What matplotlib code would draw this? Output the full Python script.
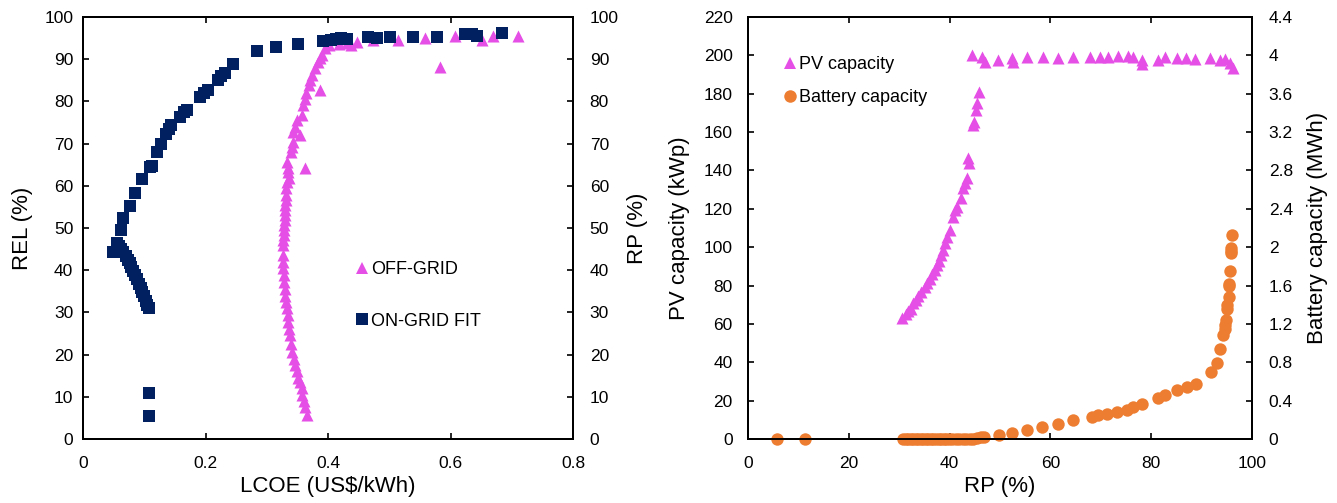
import matplotlib
matplotlib.use("Agg")
import matplotlib.pyplot as plt
from matplotlib.lines import Line2D
from matplotlib.ticker import MultipleLocator, FuncFormatter

plt.rcParams["font.family"] = ["Liberation Sans", "DejaVu Sans"]

NAVY = "#002060"
MAGENTA = "#E54FE6"
ORANGE = "#ED7D31"

# ── left panel: LCOE vs REL/RP ──
ongrid_lcoe = [0.107, 0.107, 0.107, 0.105, 0.103, 0.100, 0.097, 0.094, 0.091, 0.088,
               0.085, 0.082, 0.079, 0.076, 0.073, 0.070, 0.066, 0.062, 0.059, 0.056,
               0.049, 0.062, 0.066, 0.077, 0.085, 0.097, 0.109, 0.112, 0.121, 0.128,
               0.135, 0.140, 0.143, 0.158, 0.165, 0.170, 0.191, 0.198, 0.204, 0.220,
               0.225, 0.232, 0.245, 0.284, 0.315, 0.351, 0.392, 0.405, 0.413, 0.422,
               0.431, 0.465, 0.480, 0.501, 0.539, 0.578, 0.624, 0.635, 0.643, 0.684]
ongrid_val = [5.5, 11.0, 31.0, 31.8, 32.8, 33.8, 34.8, 35.8, 36.8, 37.8,
              38.8, 39.8, 40.7, 41.6, 42.5, 43.3, 44.2, 45.0, 45.8, 46.5,
              44.2, 49.5, 52.3, 55.2, 58.3, 61.6, 64.4, 64.8, 68.0, 70.0,
              72.3, 73.5, 74.4, 76.3, 77.5, 78.0, 81.0, 82.0, 82.7, 85.0,
              86.0, 86.7, 88.8, 91.9, 92.9, 93.6, 94.3, 94.6, 94.8, 95.0,
              94.8, 95.3, 95.0, 95.3, 95.3, 95.3, 96.0, 96.0, 95.5, 96.2]

offgrid_lcoe = [0.366, 0.362, 0.360, 0.358, 0.357, 0.354, 0.351, 0.349, 0.346, 0.344,
                0.342, 0.340, 0.338, 0.336, 0.335, 0.334, 0.333, 0.332, 0.330, 0.329,
                0.328, 0.328, 0.327, 0.326, 0.326, 0.327, 0.327, 0.328, 0.328, 0.328,
                0.329, 0.330, 0.330, 0.330, 0.331, 0.331, 0.332, 0.333, 0.336, 0.335,
                0.335, 0.333, 0.340, 0.341, 0.343, 0.343, 0.346, 0.349, 0.357, 0.359,
                0.362, 0.364, 0.369, 0.371, 0.374, 0.379, 0.384, 0.387, 0.390, 0.395,
                0.402, 0.387, 0.362, 0.355, 0.418, 0.431, 0.437, 0.447, 0.474, 0.514,
                0.558, 0.583, 0.607, 0.651, 0.670, 0.710]
offgrid_val = [5.7, 7.5, 9.0, 10.5, 12.0, 13.5, 14.5, 16.0, 17.5, 19.0,
               20.6, 22.5, 24.6, 26.0, 27.7, 29.5, 31.0, 32.5, 34.0, 35.5,
               37.2, 38.8, 40.5, 42.0, 43.6, 46.0, 47.2, 48.3, 49.5, 50.7,
               52.0, 53.0, 54.2, 55.5, 56.7, 57.8, 59.5, 61.0, 61.8, 63.2,
               64.2, 65.6, 68.0, 69.2, 70.4, 72.7, 74.0, 75.6, 76.8, 79.1,
               80.5, 82.0, 83.9, 85.0, 86.3, 87.9, 89.3, 90.2, 91.0, 92.7,
               93.4, 82.7, 64.2, 72.0, 93.5, 93.8, 93.3, 94.1, 94.5, 94.5,
               95.0, 88.2, 95.5, 94.5, 95.5, 95.5]

# ── right panel: RP vs PV / battery capacity ──
pv_rp = [5.7, 11.3, 30.6, 31.3, 31.8, 32.3, 32.7, 33.3, 33.8, 34.4,
         35.1, 35.6, 36.1, 36.6, 37.1, 37.5, 37.9, 38.3, 38.7, 39.1,
         39.5, 40.1, 40.7, 41.1, 41.5, 42.3, 42.7, 43.1, 43.5, 43.8,
         43.7, 44.6, 44.8, 45.2, 45.4, 45.8, 44.4, 46.4, 47.0, 49.6,
         52.4, 52.6, 55.4, 58.5, 61.5, 64.5, 67.9, 69.8, 71.4, 73.4,
         75.4, 76.4, 78.2, 78.2, 81.3, 82.7, 85.1, 86.9, 88.7, 91.7,
         93.7, 94.6, 95.6, 96.2]
pv_kwp = [0, 0, 63.0, 65.0, 66.5, 68.0, 70.9, 72.5, 74.5, 76.5,
          79.3, 81.5, 83.5, 86.0, 88.0, 90.5, 93.0, 96.0, 98.5, 102.0,
          105.5, 109.0, 115.8, 119.5, 121.0, 125.6, 130.9, 133.5, 136.0, 143.9,
          146.5, 163.7, 165.3, 171.5, 175.0, 181.0, 200.0, 199.0, 196.6, 197.6,
          198.6, 196.6, 199.0, 199.0, 198.6, 199.0, 199.0, 199.0, 199.0, 199.7,
          199.7, 199.0, 197.6, 195.5, 197.6, 199.0, 198.6, 198.8, 198.0, 198.6,
          197.6, 198.0, 196.0, 193.4]

bat_rp = [5.7, 11.3, 30.8, 31.3, 31.8, 32.3, 32.8, 33.3, 33.8, 34.3,
          34.8, 35.3, 35.8, 36.3, 36.8, 37.3, 37.8, 38.3, 38.8, 39.3,
          39.8, 40.5, 41.2, 41.9, 42.6, 43.3, 44.0, 44.6, 45.4, 46.2,
          46.8, 49.8, 52.4, 55.4, 58.3, 61.5, 64.5, 68.2, 69.4, 71.2,
          73.2, 75.2, 76.4, 78.2, 81.4, 82.7, 85.1, 87.1, 88.9, 91.8,
          93.0, 93.7, 94.3, 94.6, 94.7, 94.8, 95.0, 95.0, 95.4, 95.5,
          95.4, 95.6, 95.8, 95.8, 95.8, 96.0]
bat_mwh = [0, 0, 0, 0, 0, 0, 0, 0, 0, 0,
           0, 0, 0, 0, 0, 0, 0, 0, 0, 0,
           0, 0, 0, 0, 0, 0, 0, -0.005, 0.01, 0.02,
           0.02, 0.04, 0.06, 0.09, 0.12, 0.16, 0.20, 0.23, 0.25, 0.26,
           0.28, 0.30, 0.33, 0.37, 0.43, 0.46, 0.51, 0.54, 0.57, 0.70,
           0.79, 0.94, 1.08, 1.19, 1.15, 1.24, 1.36, 1.40, 1.48, 1.60,
           1.62, 1.75, 1.94, 1.96, 1.99, 2.13]

TICK_FS = 12.5
LABEL_FS = 16
LEG_FS = 13


def style_axis(ax):
    for sp in ax.spines.values():
        sp.set_linewidth(1.4)
    ax.tick_params(direction="in", length=4, width=1.2, labelsize=TICK_FS,
                   top=True)
    ax.tick_params(axis="x", pad=12)
    ax.tick_params(axis="y", pad=9)


def plain(v, _):
    return f"{v:g}"


fig = plt.figure(figsize=(13.37, 5.03), dpi=100)

# left panel
ax1 = fig.add_axes([83 / 1337, 64 / 503, 490 / 1337, 422 / 503])
ax1.scatter(offgrid_lcoe, offgrid_val, marker="^", s=75, color=MAGENTA,
            linewidths=0, zorder=2)
ax1.scatter(ongrid_lcoe, ongrid_val, marker="s", s=80, color=NAVY,
            linewidths=0, zorder=3)
ax1.set_xlim(0, 0.8)
ax1.set_ylim(0, 100)
ax1.xaxis.set_major_locator(MultipleLocator(0.2))
ax1.yaxis.set_major_locator(MultipleLocator(10))
ax1.xaxis.set_major_formatter(FuncFormatter(plain))
ax1.set_xlabel("LCOE (US$/kWh)", fontsize=LABEL_FS, labelpad=4)
ax1.set_ylabel("REL (%)", fontsize=LABEL_FS, labelpad=8)
style_axis(ax1)
ax1.tick_params(axis="y", pad=7)
ax1r = ax1.twinx()
ax1r.set_ylim(0, 100)
ax1r.yaxis.set_major_locator(MultipleLocator(10))
ax1r.set_ylabel("RP (%)", fontsize=LABEL_FS, labelpad=6)
style_axis(ax1r)
ax1r.tick_params(axis="y", right=True, labelright=True, pad=12)

h_off = Line2D([], [], ls="none", marker="^", ms=9, color=MAGENTA, mew=0)
h_on = Line2D([], [], ls="none", marker="s", ms=9, color=NAVY, mew=0)
ax1r.legend([h_off, h_on], ["OFF-GRID", "ON-GRID FIT"], loc="center left",
            bbox_to_anchor=(0.556, 0.34), frameon=False, fontsize=LEG_FS,
            handlelength=0.7, handletextpad=0.15, labelspacing=1.9,
            borderpad=0, borderaxespad=0)

# right panel
ax2 = fig.add_axes([748 / 1337, 64 / 503, 504 / 1337, 422 / 503])
ax2.scatter(pv_rp, pv_kwp, marker="^", s=75, color=MAGENTA, linewidths=0)
ax2.set_xlim(0, 100)
ax2.set_ylim(0, 220)
ax2.xaxis.set_major_locator(MultipleLocator(20))
ax2.yaxis.set_major_locator(MultipleLocator(20))
ax2.set_xlabel("RP (%)", fontsize=LABEL_FS, labelpad=4)
ax2.set_ylabel("PV capacity (kWp)", fontsize=LABEL_FS, labelpad=10)
style_axis(ax2)
ax2.tick_params(axis="y", pad=11)
ax2r = ax2.twinx()
ax2r.scatter(bat_rp, bat_mwh, marker="o", s=80, color=ORANGE, linewidths=0,
             clip_on=False)
ax2r.set_ylim(0, 4.4)
ax2r.yaxis.set_major_locator(MultipleLocator(0.4))
ax2r.yaxis.set_major_formatter(FuncFormatter(plain))
ax2r.set_ylabel("Battery capacity (MWh)", fontsize=LABEL_FS, labelpad=10)
style_axis(ax2r)
ax2r.tick_params(axis="y", right=True, labelright=True, pad=12)

h_pv = Line2D([], [], ls="none", marker="^", ms=9, color=MAGENTA, mew=0)
h_bat = Line2D([], [], ls="none", marker="o", ms=9, color=ORANGE, mew=0)
ax2r.legend([h_pv, h_bat], ["PV capacity", "Battery capacity"],
            loc="center left", bbox_to_anchor=(0.071, 0.848), frameon=False,
            fontsize=LEG_FS, handlelength=0.7, handletextpad=0.15,
            labelspacing=0.9, borderpad=0, borderaxespad=0)

fig.savefig("out.png", dpi=100)
